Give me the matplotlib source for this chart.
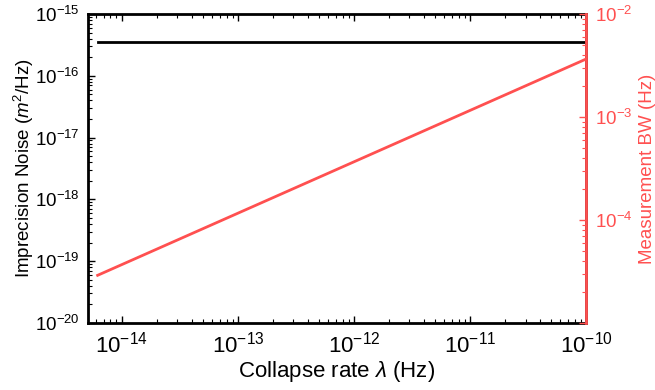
import numpy as np
import matplotlib
matplotlib.use('Agg')
import matplotlib.pyplot as plt

plt.rcParams['font.family'] = ['Liberation Sans', 'DejaVu Sans']
plt.rcParams['mathtext.fontset'] = 'custom'
plt.rcParams['mathtext.rm'] = 'Liberation Sans'
plt.rcParams['mathtext.it'] = 'Liberation Sans:italic'

# collapse rate (Hz)
rate = [6.2e-15, 1e-10]
# imprecision noise (m^2/Hz)
noise = [3.5e-16, 3.5e-16]
# measurement bandwidth (Hz)
bw = [2.9e-5, 3.66e-3]
rate_ticks = [1e-14, 1e-13, 1e-12, 1e-11, 1e-10]
noise_ticks = [1e-20, 1e-19, 1e-18, 1e-17, 1e-16, 1e-15]
bw_ticks = [1e-5, 1e-4, 1e-3, 1e-2]

red = '#ff5050'

fig = plt.figure(figsize=(6.55, 3.9), dpi=100)
ax = fig.add_axes([0.134, 0.172, 0.761, 0.792])
ax.plot(rate, noise, color='black', lw=2)
ax.set_xscale('log')
ax.set_yscale('log')
ax.set_xticks(rate_ticks)
ax.set_yticks(noise_ticks)
ax.set_xlim(5.1e-15, 1e-10)
ax.set_ylim(1e-20, 1e-15)
ax.set_xlabel(r'Collapse rate $\lambda$ (Hz)', fontsize=16, labelpad=1)
ax.set_ylabel(r'Imprecision Noise ($m^2$/Hz)', fontsize=13.5, labelpad=-1)
ax.tick_params(which='both', direction='in', top=True, right=False)
ax.tick_params(axis='x', labelsize=16, pad=6)
ax.tick_params(axis='y', labelsize=13.5, pad=6)
ax.tick_params(which='major', length=5, width=1)
ax.tick_params(which='minor', length=3, width=0.8)
for s in ax.spines.values():
    s.set_linewidth(2)

ax2 = ax.twinx()
ax2.plot(rate, bw, color=red, lw=2)
ax2.set_yscale('log')
ax2.set_yticks(bw_ticks)
ax2.set_ylim(1e-5, 1e-2)
ax2.yaxis.get_major_ticks()[0].label2.set_visible(False)
ax2.set_ylabel('Measurement BW (Hz)', color=red, fontsize=13.5, labelpad=5)
ax2.tick_params(which='both', direction='in', colors=red, labelsize=13.5)
ax2.tick_params(which='major', length=5, width=1, pad=6)
ax2.tick_params(which='minor', length=3, width=0.8)
ax2.spines['right'].set_color(red)
ax2.spines['right'].set_linewidth(2)
for k in ['left', 'top', 'bottom']:
    ax2.spines[k].set_visible(False)

fig.savefig('out.png', dpi=100)
